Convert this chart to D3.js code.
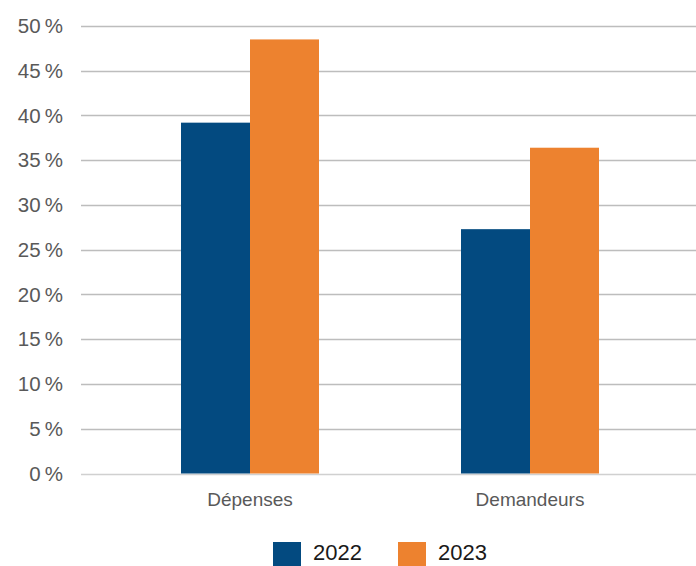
<!DOCTYPE html>
<html>
<head>
<meta charset="utf-8">
<script src="https://cdn.jsdelivr.net/npm/d3@7"></script>
<style>
  html, body { margin: 0; padding: 0; background: #fff; }
  svg { display: block; font-family: "Liberation Sans", Arial, sans-serif; }
</style>
</head>
<body>
<svg id="chart" width="696" height="566"></svg>
<script>
// Share values (%) per category and year
const categories = ["Dépenses", "Demandeurs"];
const seriesNames = ["2022", "2023"];
const values2022 = [39.2, 27.3];
const values2023 = [48.5, 36.4];
const yTicks = [0, 5, 10, 15, 20, 25, 30, 35, 40, 45, 50];
const colors = ["#034a80", "#ed822f"];

const seriesValues = [values2022, values2023];

const svg = d3.select("#chart");
const W = 696;

const y = d3.scaleLinear().domain([0, 50]).range([473.5, 26]);
const x0 = d3.scaleBand().domain(categories).range([110, 670]).paddingInner(0).paddingOuter(0);
const x1 = d3.scaleBand().domain(seriesNames).range([71, 209]).padding(0);

// Horizontal gridlines
svg.append("g")
  .selectAll("line")
  .data(yTicks)
  .join("line")
  .attr("x1", 81)
  .attr("x2", W)
  .attr("y1", d => Math.round(y(d)) + 0.5)
  .attr("y2", d => Math.round(y(d)) + 0.5)
  .attr("stroke", d => d === 0 ? "#d0d0d0" : "#bdbdbd")
  .attr("stroke-width", 1.3);

// Y axis labels
svg.append("g")
  .selectAll("text")
  .data(yTicks)
  .join("text")
  .attr("x", 63)
  .attr("y", d => y(d) + 7)
  .attr("text-anchor", "end")
  .attr("fill", "#595959")
  .attr("font-size", 20.5)
  .text(d => d + "\u2009%");

// Bars
const groups = svg.append("g")
  .selectAll("g")
  .data(categories)
  .join("g")
  .attr("transform", d => `translate(${x0(d)},0)`);

groups.selectAll("rect")
  .data((c, i) => seriesNames.map((s, j) => ({ s, v: seriesValues[j][i], j })))
  .join("rect")
  .attr("x", d => x1(d.s))
  .attr("width", x1.bandwidth())
  .attr("y", d => y(d.v))
  .attr("height", d => y(0) - y(d.v))
  .attr("fill", d => colors[d.j]);

// Category labels
svg.append("g")
  .selectAll("text")
  .data(categories)
  .join("text")
  .attr("x", d => x0(d) + x0.bandwidth() / 2)
  .attr("y", 506)
  .attr("text-anchor", "middle")
  .attr("fill", "#595959")
  .attr("font-size", 19)
  .text(d => d);

// Legend
const legendX = [273, 398];
const legend = svg.append("g")
  .selectAll("g")
  .data(seriesNames)
  .join("g")
  .attr("transform", (d, i) => `translate(${legendX[i]},542)`);

legend.append("rect")
  .attr("width", 28)
  .attr("height", 24)
  .attr("fill", (d, i) => colors[i]);

legend.append("text")
  .attr("x", 40)
  .attr("y", 18)
  .attr("fill", "#1a1a1a")
  .attr("font-size", 22)
  .text(d => d);
</script>
</body>
</html>
